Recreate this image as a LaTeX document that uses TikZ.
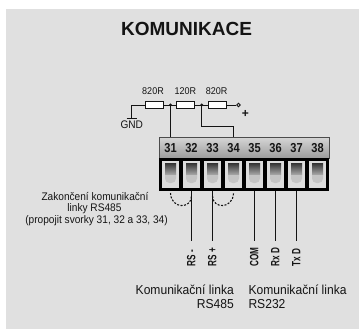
\documentclass[tikz,border=0pt]{standalone}
\usepackage{fontspec}
\setmainfont{Liberation Sans}
\newfontfamily\lblfont{Liberation Sans}[FakeStretch=0.92]
\newfontfamily\bigfont{Liberation Sans}[FakeStretch=0.93]
\newfontfamily\numfont{Liberation Sans}[FakeStretch=0.85]
\newfontfamily\rotfont{Liberation Sans}[FakeStretch=0.68]
\newfontfamily\titlefont{Liberation Sans}
\definecolor{bg}{gray}{0.878}
\definecolor{ink}{HTML}{141414}
\definecolor{hdtop}{HTML}{D6D6D6}
\definecolor{hdbot}{HTML}{9C9C9C}
\definecolor{slotc}{HTML}{DCDCDC}
\definecolor{scrtop}{HTML}{3A3A3A}
\definecolor{scrmid}{HTML}{A8A8A8}
\definecolor{scrlow}{HTML}{C4C4C4}
\tikzset{
  wire/.style={draw=ink, line width=0.95pt},
  resbox/.style={draw=ink, fill=white, line width=0.8pt, minimum width=18.5pt, minimum height=7pt, inner sep=0pt},
  lbl/.style={text=ink, inner sep=0pt, font=\lblfont\fontsize{11}{12}\selectfont},
  reslbl/.style={text=ink, inner sep=0pt, font=\lblfont\fontsize{9.8}{10}\selectfont},
  biglbl/.style={text=ink, inner sep=0pt, font=\bigfont\fontsize{13}{14}\selectfont},
  numlbl/.style={text=ink, inner sep=0pt, font=\numfont\bfseries\fontsize{13}{13}\selectfont},
  rotlbl/.style={text=ink, inner sep=0pt, rotate=90, anchor=west, font=\rotfont\bfseries\fontsize{12}{12}\selectfont},
  jumper/.style={draw=ink, line width=1.1pt, dash pattern=on 2pt off 1.5pt},
}
\begin{document}
\begin{tikzpicture}[x=1pt,y=-1pt]
\fill[white] (0,0) rectangle (359,329);
\fill[bg] (6,9) rectangle (359,329);
\useasboundingbox (0,0) rectangle (359,329);

% title
\node[text=ink, inner sep=0pt, anchor=base, font=\titlefont\bfseries\fontsize{19}{19}\selectfont] (title) at (186.5,36) {KOMUNIKACE};

% resistor network
\node[resbox] (r1) at (154.2,105) {};
\node[resbox] (r2) at (185.5,105) {};
\node[resbox] (r3) at (217.5,105) {};
\node[reslbl, anchor=base] (l1) at (153,95) {820R};
\node[reslbl, anchor=base] (l2) at (185.3,95) {120R};
\node[reslbl, anchor=base] (l3) at (216.7,95) {820R};
\coordinate (j1) at (170.5,105);
\coordinate (j2) at (201.7,105);
\node[circle, draw=ink, line width=0.8pt, fill=bg, inner sep=0pt, minimum size=3.6pt] (pt) at (238.5,105) {};
\node[text=ink, inner sep=0pt, font=\bfseries\fontsize{12}{12}\selectfont] (plus) at (245.3,114.3) {+};
\coordinate (gc) at (131.7,105);
\coordinate (gb) at (131.7,118.3);
\coordinate (gl) at (126.5,118.3);
\coordinate (gr) at (137,118.3);
\node[lbl, anchor=base] (gnd) at (131.8,128.3) {GND};
\draw[wire] (r1.west) -- (gc) -- (gb);
\draw[wire] (gl) -- (gr);
\draw[wire] (r1.east) -- (r2.west);
\draw[wire] (r2.east) -- (r3.west);
\draw[wire] (r3.east) -- (pt);
\fill[ink] (j1) circle (1.7pt);
\fill[ink] (j2) circle (1.7pt);

% terminal block
\shade[top color=hdtop, bottom color=hdbot] (159,137) rectangle (329,158);
\draw[draw=gray!60!black, line width=0.6pt] (159,137) rectangle (329,158);
\fill[black] (159,158) rectangle (329,191);
\foreach \i [evaluate=\i as \xa using 162+21*\i, evaluate=\i as \xc using 170.5+21*\i, evaluate=\i as \n using int(31+\i)] in {0,...,7} {
  \fill[slotc] (\xa,161.3) rectangle ({\xa+17},188);
  \fill[scrlow, rounded corners=4.5pt] ({\xa+3},169) rectangle ({\xa+14},183);
  \shade[top color=scrtop, bottom color=scrmid] ({\xa+3},163.7) rectangle ({\xa+14},174.7);
  \node[numlbl, anchor=base] (t\n) at (\xc,152.3) {\n};
  \coordinate (top\n) at (\xc,137);
  \coordinate (bot\n) at (\xc,191);
  \coordinate (end\n) at (\xc,240.5);
}

% network to block
\coordinate (k) at (233.5,126.7);
\draw[wire] (j1) -- (top31);
\draw[wire] (j2) |- (k) -- (top34);

% outgoing wires
\foreach \n in {32,33,35,36,37} {
  \draw[wire] (bot\n) -- (end\n);
}

% jumpers
\coordinate (a31) at (170.5,193);
\coordinate (a32) at (191.5,196);
\coordinate (a33) at (212.5,196);
\coordinate (a34) at (233.5,193);
\draw[jumper] (a31) .. controls (171,209.5) and (191.5,209) .. (a32);
\draw[jumper] (a33) .. controls (212.5,209) and (233,209.5) .. (a34);

% rotated labels
\node[rotlbl] (rsm) at (191.3,266.5) {RS -};
\node[rotlbl] (rsp) at (212.3,266.5) {RS +};
\node[rotlbl] (com) at (254.3,266.5) {COM};
\node[rotlbl] (rxd) at (275.3,266.5) {Rx D};
\node[rotlbl] (txd) at (296.3,266.5) {Tx D};

% bottom labels
\node[biglbl, anchor=base east] (k485) at (234,294) {Komunikační linka};
\node[biglbl, anchor=base east] (n485) at (234,308) {RS485};
\node[biglbl, anchor=base west] (k232) at (248.3,294) {Komunikační linka};
\node[biglbl, anchor=base west] (n232) at (248.3,308) {RS232};

% left note
\node[lbl, anchor=base] (z1) at (95,200) {Zakončení komunikační};
\node[lbl, anchor=base] (z2) at (94.4,211.7) {linky RS485};
\node[lbl, anchor=base] (z3) at (96.5,223.5) {(propojit svorky 31, 32 a 33, 34)};
\end{tikzpicture}
\end{document}
